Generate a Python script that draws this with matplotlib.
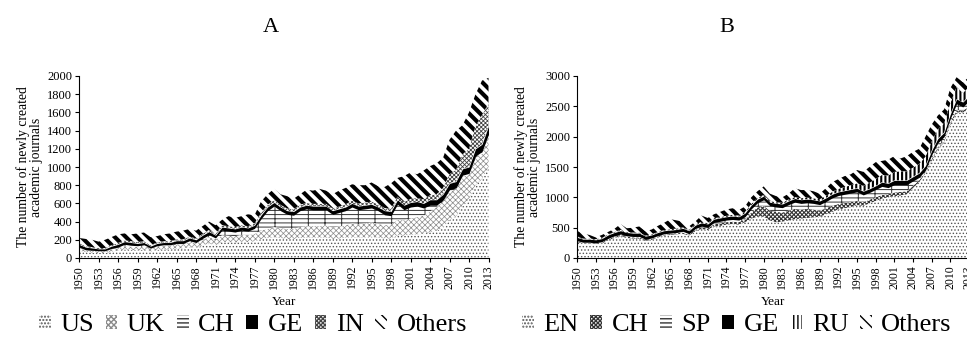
import matplotlib
matplotlib.use('Agg')
import matplotlib.pyplot as plt
import matplotlib.patches as mpatches

plt.rcParams['font.family'] = ['Liberation Serif', 'DejaVu Serif']

years = list(range(1950, 2014))

# Panel A - by country
a_us = [80, 65, 60, 55, 55, 70, 80, 95, 90, 85, 90, 70, 90, 95, 95, 105, 105, 120, 110, 140,
        160, 140, 180, 175, 170, 180, 175, 185, 210, 220, 230, 220, 210, 210, 220, 225, 225, 225, 225, 210,
        215, 225, 235, 225, 230, 235, 225, 215, 215, 250, 245, 255, 260, 265, 285, 300, 330, 420, 460, 560,
        650, 800, 870, 1000]
a_uk = [30, 20, 20, 20, 20, 25, 30, 35, 35, 35, 35, 30, 35, 40, 40, 45, 45, 55, 50, 60,
        70, 60, 70, 70, 70, 75, 75, 80, 90, 100, 110, 110, 110, 110, 120, 125, 125, 125, 130, 125,
        130, 135, 145, 145, 150, 155, 150, 145, 150, 170, 170, 180, 190, 200, 225, 260, 290, 315, 295, 335,
        265, 300, 280, 340]
a_ch = [10, 5, 5, 5, 5, 10, 10, 20, 15, 15, 20, 10, 10, 10, 10, 10, 10, 15, 10, 15,
        25, 20, 55, 50, 45, 50, 45, 60, 130, 200, 230, 190, 160, 150, 180, 190, 180, 180, 175, 145,
        155, 160, 180, 160, 160, 160, 145, 115, 100, 170, 115, 125, 120, 85, 70, 20, 15, 15, 15, 15,
        15, 20, 20, 20]
a_ge = [30, 30, 25, 20, 20, 25, 30, 30, 30, 25, 25, 20, 25, 25, 25, 30, 30, 30, 30, 35,
        35, 30, 35, 35, 35, 35, 35, 35, 40, 40, 40, 40, 40, 40, 40, 40, 40, 40, 40, 40,
        40, 40, 40, 40, 40, 40, 40, 45, 45, 50, 50, 50, 50, 50, 60, 60, 65, 70, 70, 70,
        70, 80, 80, 90]
a_in = [15, 10, 10, 10, 10, 10, 15, 15, 15, 15, 15, 10, 10, 15, 15, 15, 15, 15, 15, 15,
        20, 15, 20, 20, 20, 20, 20, 20, 25, 25, 25, 25, 25, 25, 25, 25, 25, 25, 25, 25,
        25, 30, 30, 30, 30, 30, 30, 30, 30, 35, 35, 40, 40, 45, 50, 60, 70, 100, 130, 160,
        200, 250, 320, 250]
a_oth = [55, 80, 80, 70, 90, 90, 95, 75, 75, 95, 95, 90, 70, 75, 85, 85, 95, 85, 85, 85,
         90, 95, 60, 110, 100, 100, 130, 90, 125, 115, 125, 115, 135, 115, 115, 145, 145, 165, 145, 155,
         175, 180, 180, 200, 190, 210, 200, 230, 280, 205, 285, 290, 260, 315, 320, 340, 330, 380, 430, 320,
         400, 350, 380, 280]

# Panel B - by language
b_en = [260, 240, 240, 230, 240, 290, 330, 360, 330, 320, 320, 280, 300, 340, 370, 380, 390, 400, 370, 440,
        480, 460, 520, 530, 550, 560, 550, 590, 650, 680, 680, 620, 590, 600, 620, 640, 650, 660, 670, 680,
        720, 760, 800, 820, 840, 870, 860, 900, 940, 980, 1000, 1020, 1030, 1050, 1150, 1250, 1400, 1600, 1800, 1900,
        2200, 2400, 2400, 2450]
b_ch = [15, 10, 10, 10, 15, 20, 20, 20, 20, 20, 20, 15, 15, 15, 15, 15, 15, 20, 15, 25,
        25, 25, 35, 40, 40, 40, 40, 50, 100, 150, 180, 160, 170, 150, 160, 170, 150, 150, 130, 100,
        100, 100, 90, 90, 80, 70, 60, 60, 60, 60, 50, 60, 60, 50, 40, 30, 20, 30, 30, 30,
        30, 40, 30, 40]
b_sp = [10, 10, 10, 10, 15, 15, 15, 15, 15, 15, 15, 15, 15, 15, 15, 15, 15, 20, 15, 20,
        20, 20, 30, 35, 35, 35, 35, 40, 60, 80, 100, 80, 80, 80, 100, 110, 100, 100, 100, 100,
        110, 130, 140, 140, 150, 150, 120, 120, 130, 140, 110, 130, 120, 110, 80, 50, 30, 70, 70, 70,
        70, 100, 60, 100]
b_ge = [55, 50, 50, 50, 50, 55, 55, 55, 55, 55, 55, 50, 50, 50, 50, 50, 50, 50, 50, 55,
        55, 55, 55, 55, 55, 55, 55, 60, 60, 60, 60, 60, 60, 60, 60, 60, 60, 60, 60, 60,
        60, 60, 60, 60, 60, 60, 60, 60, 60, 70, 70, 70, 70, 70, 70, 70, 70, 70, 70, 70,
        70, 80, 80, 80]
b_ru = [10, 10, 10, 10, 10, 10, 10, 15, 10, 10, 10, 10, 10, 10, 10, 15, 15, 15, 15, 15,
        15, 15, 15, 15, 15, 20, 20, 20, 20, 20, 20, 20, 20, 20, 25, 25, 25, 25, 25, 30,
        30, 40, 50, 60, 70, 80, 90, 100, 110, 120, 130, 140, 150, 150, 150, 150, 150, 150, 150, 150,
        180, 200, 150, 150]
b_oth = [100, 80, 60, 30, 50, 40, 50, 95, 60, 80, 100, 70, 80, 100, 120, 165, 135, 95, 55, 45,
         105, 85, 65, 85, 105, 110, 90, 90, 110, 110, 140, 120, 100, 90, 95, 145, 135, 125, 115, 90,
         130, 160, 160, 180, 180, 220, 230, 260, 280, 230, 260, 260, 210, 250, 260, 250, 330, 280, 230, 230,
         250, 160, 180, 160]

# (label, values, hatch, face, hatch color, hatch linewidth)
styles_a = [
    ('US', a_us, '.....', 'white', '#555555', 0.6),
    ('UK', a_uk, 'xxxxxx', 'white', '#8a8a8a', 0.5),
    ('CH', a_ch, '----|', 'white', '#333333', 0.7),
    ('GE', a_ge, None, 'black', 'black', 1.0),
    ('IN', a_in, 'xxxxxxxx', 'white', '#444444', 0.6),
    ('Others', a_oth, '\\\\\\', 'white', 'black', 3.0),
]
styles_b = [
    ('EN', b_en, '.....', 'white', '#555555', 0.6),
    ('CH', b_ch, 'xxxxxxxx', 'white', '#333333', 0.8),
    ('SP', b_sp, '----|', 'white', '#333333', 0.7),
    ('GE', b_ge, None, 'black', 'black', 1.0),
    ('RU', b_ru, '||||', 'white', 'black', 1.5),
    ('Others', b_oth, '\\\\\\', 'white', 'black', 3.0),
]

fig = plt.figure(figsize=(9.67, 3.38), dpi=100)
ax_a = fig.add_axes([79 / 967, 80 / 338, 409.5 / 967, 182 / 338])
ax_b = fig.add_axes([577 / 967, 80 / 338, 392 / 967, 182 / 338])


def draw_panel(ax, styles, ymax, ystep, legend_x):
    base = [0] * len(years)
    handles = []
    for label, vals, hatch, face, hcol, hlw in styles:
        top = [b + v for b, v in zip(base, vals)]
        with plt.rc_context({'hatch.linewidth': hlw}):
            ax.fill_between(years, base, top, facecolor=face, edgecolor=hcol,
                            hatch=hatch, linewidth=0)
            handles.append(mpatches.Patch(facecolor=face, edgecolor=hcol,
                                          hatch=hatch, linewidth=0, label=label))
        base = top
    ax.set_xlim(1950, 2013)
    ax.set_ylim(0, ymax)
    ax.set_xticks(years[::3])
    ax.set_xticklabels([str(y) for y in years[::3]], rotation=90, fontsize=8.5)
    ax.set_yticks(range(0, ymax + 1, ystep))
    ax.tick_params(axis='y', labelsize=9, length=3, width=0.8, pad=2)
    ax.tick_params(axis='x', length=3, width=0.8, pad=2)
    for s in ['top', 'right']:
        ax.spines[s].set_visible(False)
    for s in ['left', 'bottom']:
        ax.spines[s].set_linewidth(0.8)
    ax.set_xlabel('Year', fontsize=9.5, labelpad=5)
    ax.set_ylabel('The number of newly created\nacademic journals', fontsize=9.8,
                  linespacing=0.95, labelpad=3)
    fig.legend(handles=handles, loc='center', bbox_to_anchor=(legend_x, 13 / 338),
               bbox_transform=fig.transFigure, ncol=6, frameon=False, fontsize=19,
               handlelength=0.45, handleheight=0.45, handletextpad=0.35,
               columnspacing=0.45, borderpad=0, borderaxespad=0)


draw_panel(ax_a, styles_a, 2000, 200, 253 / 967)
draw_panel(ax_b, styles_b, 3000, 500, 737 / 967)

fig.text(271 / 967, 1 - 28 / 338, 'A', fontsize=16, ha='center', va='center')
fig.text(727 / 967, 1 - 28 / 338, 'B', fontsize=16, ha='center', va='center')

fig.savefig('out.png', dpi=100)
